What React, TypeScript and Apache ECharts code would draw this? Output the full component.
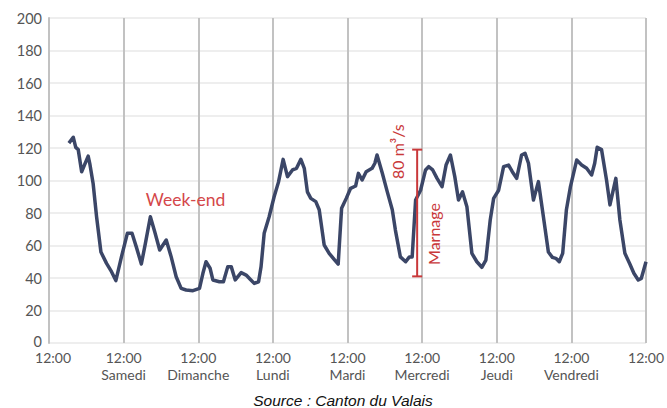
import React, { useEffect, useRef } from "react";
import * as echarts from "echarts";

const hours = [
  6.4, 7.8, 8.6, 9.4, 10.5, 12.6, 13.1, 14.2, 15.3, 16.7, 18.5, 20.1, 21.5, 23.3, 25.2, 26.7, 28.1, 29.7,
  31.0, 32.6, 34.0, 35.6, 37.7, 39.3, 40.9, 42.5, 44.1, 46.3, 48.4, 49.5, 50.5, 51.8, 52.7, 54.8, 56.1,
  57.5, 58.6, 59.9, 61.8, 63.4, 64.7, 66.0, 67.4, 68.2, 69.2, 70.8, 72.4, 73.8, 75.3, 76.7, 78.3, 79.6,
  81.0, 82.1, 83.1, 84.2, 85.8, 86.9, 88.5, 90.1, 91.7, 93.0, 94.1, 95.6, 97.0, 98.6, 99.5, 100.7, 102.0,
  103.9, 104.8, 105.5, 107.2, 108.8, 110.4, 111.4, 113.0, 114.7, 115.9, 116.8, 117.9, 119.5, 121.1, 122.1,
  123.4, 124.8, 126.4, 127.7, 129.1, 130.5, 131.7, 133.0, 134.4, 136.0, 137.6, 139.2, 140.5, 141.9, 143.0,
  144.6, 146.2, 147.8, 149.0, 150.4, 152.0, 153.1, 154.2, 155.8, 157.4, 159.0, 160.6, 161.9, 163.0, 164.1,
  165.2, 166.4, 167.7, 169.7, 171.3, 172.9, 174.5, 175.5, 176.3, 177.7, 179.3, 180.4, 182.3, 183.6, 185.2,
  186.8, 188.1, 189.5, 190.5, 192.0,
];
const flow = [
  123, 126.6, 120.4, 119, 105.4, 115, 110.6, 98, 77.7, 56, 49, 43.9, 38.4, 53, 67.5, 67.5, 59, 48.6,
  61.3, 77.7, 68.5, 57.2, 63.4, 53, 40.8, 33.6, 32.6, 32.2, 33.6, 42.9, 50, 46, 38.8, 37.7, 37.7,
  47, 47, 38.8, 43.3, 41.8, 39.2, 36.7, 37.7, 47, 67.5, 77.7, 90, 99, 113, 102.4, 106.5, 107.5,
  113, 107.5, 93, 89, 87, 82, 60.3, 55.2, 51.5, 48.6, 82.9, 89, 95.2, 96.6, 104.4, 100.3, 105.4,
  107.5, 110.6, 115.7, 104.4, 93, 82, 69.5, 53, 50, 53, 53, 88, 94, 106.5, 108.5,
  106.5, 101.3, 96.2, 109.5, 115.7, 102.4, 88, 93, 83.9, 55.2, 50, 46.6, 51, 75.7, 89,
  94, 108.5, 109.5, 105.4, 101.3, 115.7, 116.7, 110.6, 88, 99.3, 77.7, 56, 52.7, 52.1, 50,
  55.2, 82, 96.2, 112.6, 109.5, 107.5, 103.4, 110.6, 120.4, 119, 100.3, 85, 101.3, 75.7, 55.2,
  48.6, 42.9, 38.8, 39.8, 50,
];
const dayLabels = ["", "Samedi", "Dimanche", "Lundi", "Mardi", "Mercredi", "Jeudi", "Vendredi", ""];
const timeLabel = "12:00";
// annotation: [hour, low, high]
const marnage = [118.4, 41, 119];
const weekendLabel = [43.9, 88.5];

const RED = "#c9383a";
const FONT = "Lato";

export default function App() {
  const ref = useRef<HTMLDivElement>(null);
  useEffect(() => {
    const chart = echarts.init(ref.current!, null, { renderer: "svg" });
    const seriesData = hours.map((h, i) => [h, flow[i]]);
    chart.setOption({
      animation: false,
      grid: { left: 49, right: 19, top: 18, bottom: 65, containLabel: false },
      xAxis: {
        type: "value",
        min: 0,
        max: 192,
        interval: 24,
        axisLine: { show: false },
        axisTick: { show: false },
        splitLine: { show: true, lineStyle: { color: "#c2c2c2", width: 2 } },
        axisLabel: {
          margin: 6,
          lineHeight: 17,
          fontFamily: FONT,
          fontSize: 14,
          color: "#555",
          formatter: (v: number) => {
            const i = Math.round(v / 24);
            if (i === 0) return `{first|${timeLabel}}`;
            return dayLabels[i] ? `${timeLabel}\n${dayLabels[i]}` : timeLabel;
          },
          rich: {
            first: { fontFamily: FONT, fontSize: 14, color: "#555", lineHeight: 17, padding: [0, 0, 0, 8] },
          },
        },
      },
      yAxis: {
        type: "value",
        min: 0,
        max: 200,
        interval: 20,
        axisLine: { show: true, lineStyle: { color: "#c2c2c2", width: 2 } },
        axisTick: { show: false },
        splitLine: { show: true, lineStyle: { color: "#e9e9e9", width: 1.5 } },
        axisLabel: {
          margin: 7,
          fontFamily: FONT,
          fontSize: 14.5,
          lineHeight: 12,
          color: "#555",
          formatter: (v: number) => (v === 0 ? "{zero|0}" : String(v)),
          rich: {
            zero: { fontFamily: FONT, fontSize: 14.5, color: "#555", lineHeight: 12, padding: [0, 0, 4, 0] },
          },
        },
      },
      graphic: [
        {
          type: "text",
          x: 343,
          y: 400,
          style: {
            text: "Source : Canton du Valais",
            fontFamily: "Liberation Sans",
            fontStyle: "italic",
            fontSize: 15.5,
            fill: "#111",
            align: "center",
            verticalAlign: "middle",
          },
        },
      ],
      series: [
        {
          type: "line",
          data: seriesData,
          showSymbol: false,
          symbol: "none",
          lineStyle: { color: "#3b4667", width: 3.5, join: "round" },
          z: 3,
        },
        {
          type: "custom",
          data: [marnage],
          z: 4,
          renderItem: (params: any, api: any) => {
            const top = api.coord([api.value(0), api.value(2)]);
            const bot = api.coord([api.value(0), api.value(1)]);
            const x = top[0];
            const cap = 5;
            const midY = (top[1] + bot[1]) / 2;
            return {
              type: "group",
              children: [
                { type: "line", shape: { x1: x, y1: top[1], x2: x, y2: bot[1] }, style: { stroke: RED, lineWidth: 2 } },
                { type: "line", shape: { x1: x - cap, y1: top[1], x2: x + cap, y2: top[1] }, style: { stroke: RED, lineWidth: 2 } },
                { type: "line", shape: { x1: x - cap, y1: bot[1], x2: x + cap, y2: bot[1] }, style: { stroke: RED, lineWidth: 2 } },
                {
                  type: "text",
                  x: x - 20,
                  y: top[1] + 2,
                  rotation: Math.PI / 2,
                  style: {
                    text: "80 m³/s",
                    fontFamily: FONT,
                    fontSize: 16,
                    fill: RED,
                    align: "center",
                    verticalAlign: "middle",
                  },
                },
                {
                  type: "text",
                  x: x + 16,
                  y: midY + 21,
                  rotation: Math.PI / 2,
                  style: {
                    text: "Marnage",
                    fontFamily: FONT,
                    fontSize: 16,
                    fill: RED,
                    align: "center",
                    verticalAlign: "middle",
                  },
                },
              ],
            };
          },
        },
        {
          type: "custom",
          data: [weekendLabel],
          z: 4,
          renderItem: (params: any, api: any) => {
            const p = api.coord([api.value(0), api.value(1)]);
            return {
              type: "text",
              x: p[0],
              y: p[1],
              style: {
                text: "Week-end",
                fontFamily: FONT,
                fontSize: 17.5,
                fill: "#d4474a",
                align: "center",
                verticalAlign: "middle",
              },
            };
          },
        },
      ],
    });
    return () => chart.dispose();
  }, []);
  return <div ref={ref} style={{ width: 667, height: 408, position: "absolute", left: 0, top: 0 }} />;
}
